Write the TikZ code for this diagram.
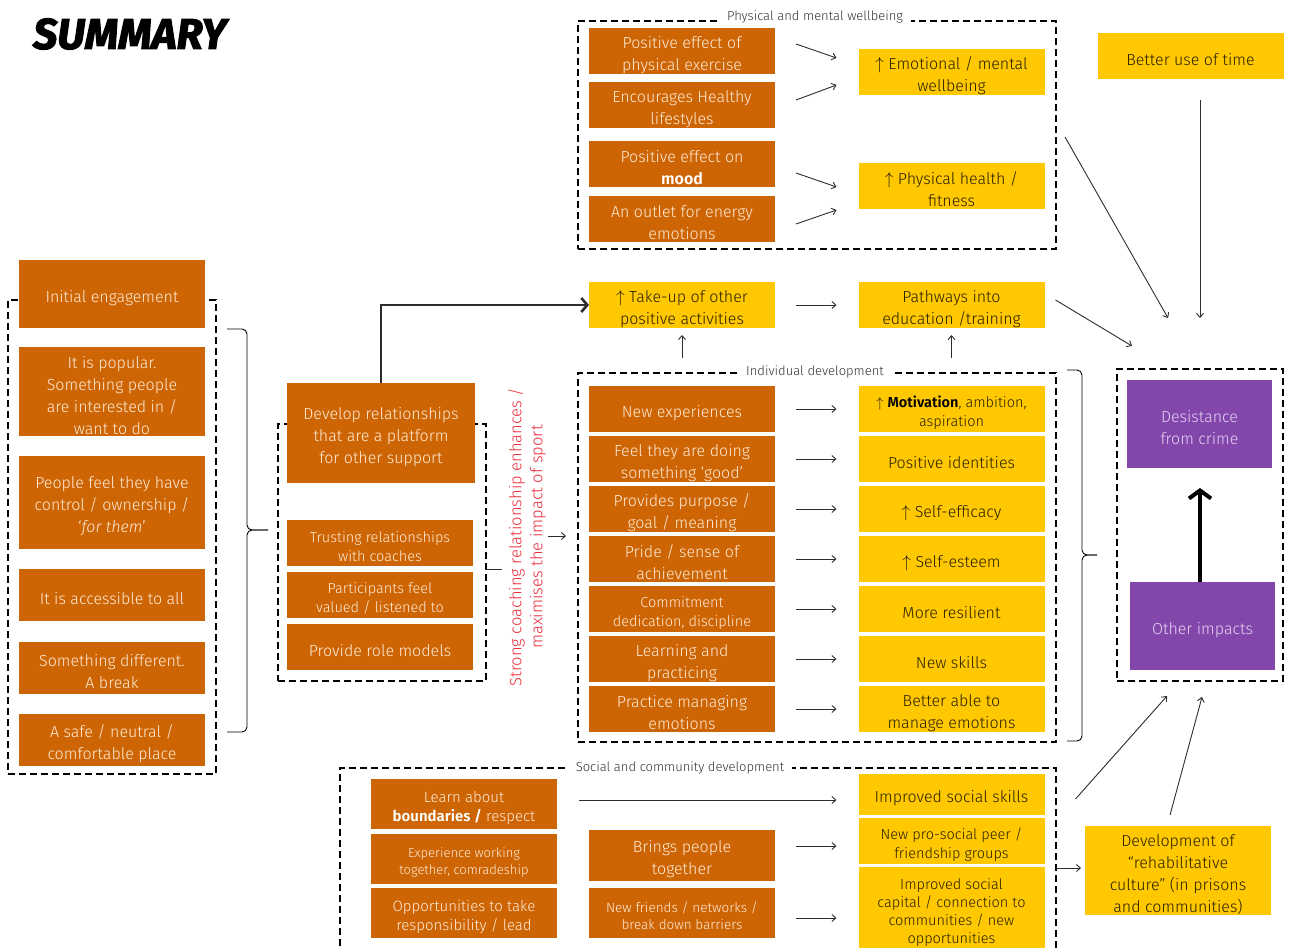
\documentclass[tikz,border=0pt]{standalone}
\usepackage{fontspec}
\setmainfont{Fira Sans Light}[BoldFont={Fira Sans SemiBold}, ItalicFont={Fira Sans Light Italic}]
\newfontfamily\titlefont{Fira Sans}[BoldItalicFeatures={FakeBold=2.5}]
\usetikzlibrary{arrows.meta}
\definecolor{ora}{RGB}{205,101,5}
\definecolor{yel}{RGB}{255,200,0}
\definecolor{pur}{RGB}{131,71,171}
\definecolor{cream}{RGB}{255,236,215}
\definecolor{lav}{RGB}{228,210,242}
\definecolor{dtext}{RGB}{40,30,0}
\definecolor{redt}{RGB}{235,45,60}
\definecolor{lineg}{RGB}{45,45,45}
\newcommand\st{\rule{0pt}{1.25em}}
\begin{document}
\begin{tikzpicture}[x=1pt,y=-1pt,
  base/.style={inner sep=0pt, outer sep=0pt, align=center, minimum width=186pt, minimum height=46pt, font=\fontsize{16}{22}\selectfont},
  ob/.style={base, fill=ora, text=cream},
  yb/.style={base, fill=yel, text=dtext},
  pb/.style={base, fill=pur, text=lav, minimum width=145pt, minimum height=88pt},
  sm/.style={font=\fontsize{14.5}{19}\selectfont},
  dbox/.style={draw=black, line width=2.2pt, dash pattern=on 7pt off 4pt, inner sep=0pt, outer sep=0pt},
  dlabel/.style={fill=white, inner xsep=8pt, inner ysep=1pt, text=black!80, font=\fontsize{13}{15}\selectfont},
  arr/.style={draw=lineg, line width=0.9pt, -{Straight Barb[length=4pt,width=7pt]}},
  brc/.style={draw=black, line width=0.9pt, rounded corners=5pt}
]
\useasboundingbox (0,0) rectangle (1289,947);
\clip (0,0) rectangle (1289,947);

% title
\node[anchor=west, inner sep=0pt, font=\fontsize{43}{43}\titlefont\bfseries\itshape] (title) at (33,34) {SUMMARY};

% dashed containers
\node[dbox, minimum width=478pt, minimum height=228pt] (pmw) at (817,135) {};
\node[dbox, minimum width=208pt, minimum height=474pt] (lbox) at (112,537) {};
\node[dbox, minimum width=208pt, minimum height=257pt] (mbox) at (382,552.5) {};
\node[dbox, minimum width=478pt, minimum height=369pt] (ind) at (817,557.5) {};
\node[dbox, minimum width=166pt, minimum height=312pt] (rbox) at (1200,525) {};
\node[dbox, minimum width=716pt, minimum height=212pt] (soc) at (698,874) {};
\node[dlabel] (l1) at (815,17) {Physical and mental wellbeing};
\node[dlabel] (l2) at (815,372) {Individual development};
\node[dlabel] (l3) at (680,768) {Social and community development};

% top section
\node[ob] (pe1) at (682,51) {\st Positive effect of\\physical exercise};
\node[ob] (enc) at (682,105) {\st Encourages Healthy\\lifestyles};
\node[ob] (moo) at (682,164) {\st Positive effect on\\\textbf{\color{white}mood}};
\node[ob] (out) at (682,219) {\st An outlet for energy\\emotions};
\node[yb] (emo) at (951.5,72) {\st$\uparrow$ Emotional / mental\\wellbeing};
\node[yb] (phy) at (951.5,186) {\st$\uparrow$ Physical health /\\fitness};
\node[yb] (btr) at (1190.5,56) {\st Better use of time};
\node[yb] (tak) at (682,305) {\st$\uparrow$ Take-up of other\\positive activities};
\node[yb] (pth) at (951.5,305) {\st Pathways into\\education /training};

% left column
\node[ob, minimum height=68pt] (ie) at (112,294) {\st Initial engagement};
\node[ob, minimum height=89pt] (pop) at (112,391.5) {\st It is popular.\\Something people\\are interested in /\\want to do};
\node[ob, minimum height=93pt] (ctl) at (112,502.5) {\st People feel they have\\control / ownership /\\‘\textit{for them}’};
\node[ob, minimum height=52pt] (acc) at (112,595) {\st It is accessible to all};
\node[ob, minimum height=52pt] (dif) at (112,668) {\st Something different.\\A break};
\node[ob, minimum height=52pt] (safe) at (112,740) {\st A safe / neutral /\\comfortable place};

% middle column
\node[ob, minimum width=188pt, minimum height=100pt] (rel) at (381,433) {\st Develop relationships\\that are a platform\\for other support};
\node[ob, sm] (tru) at (380,543) {\st Trusting relationships\\with coaches};
\node[ob, sm] (par) at (380,595) {\st Participants feel\\valued / listened to};
\node[ob] (rol) at (380,647) {\st Provide role models};
\node[rotate=90, align=center, text=redt, inner sep=0pt, font=\fontsize{16.5}{21}\selectfont] (coach) at (527,537) {Strong coaching relationship enhances /\\maximises the impact of sport};

% individual development
\node[ob] (ne) at (682,409) {\st New experiences};
\node[ob] (gd) at (682,459) {\st Feel they are doing\\something ‘good’};
\node[ob] (pur) at (682,509) {\st Provides purpose /\\goal / meaning};
\node[ob] (prd) at (682,559) {\st Pride / sense of\\achievement};
\node[ob, sm] (com) at (682,609) {\st Commitment\\dedication, discipline};
\node[ob] (lrn) at (682,659) {\st Learning and\\practicing};
\node[ob] (pme) at (682,709) {\st Practice managing\\emotions};
\node[yb, sm] (mot) at (951.5,409) {\st$\uparrow$ \textbf{\color{black}Motivation}, ambition,\\aspiration};
\node[yb] (pid) at (951.5,459) {\st Positive identities};
\node[yb] (sef) at (951.5,509) {\st$\uparrow$ Self-efficacy};
\node[yb] (ses) at (951.5,559) {\st$\uparrow$ Self-esteem};
\node[yb] (res) at (951.5,609) {\st More resilient};
\node[yb] (nsk) at (951.5,659) {\st New skills};
\node[yb] (bme) at (951.5,709) {\st Better able to\\manage emotions};

% right
\node[pb] (des) at (1199.5,424) {\st Desistance\\from crime};
\node[pb] (oth) at (1202.5,626) {\st Other impacts};

% social
\node[ob, minimum height=50pt, font=\fontsize{15}{19}\selectfont] (lab) at (464,804) {\st Learn about\\\textbf{\color{white}boundaries /} respect};
\node[ob, minimum height=50pt, font=\fontsize{13}{16.5}\selectfont] (exp) at (464,859) {\st Experience working\\together, comradeship};
\node[ob, minimum height=50pt, font=\fontsize{15}{19}\selectfont] (opp) at (464,913) {\st Opportunities to take\\responsibility / lead};
\node[ob, minimum height=51pt] (brg) at (682,855.5) {\st Brings people\\together};
\node[ob, minimum height=50pt, font=\fontsize{13.5}{17}\selectfont] (nfr) at (682,913) {\st New friends / networks /\\break down barriers};
\node[yb, minimum height=41pt] (iss) at (951.5,794.5) {\st Improved social skills};
\node[yb, sm] (pps) at (951.5,841) {\st New pro-social peer /\\friendship groups};
\node[yb, minimum height=84pt, font=\fontsize{14.5}{18}\selectfont] (isc) at (951.5,909) {\st Improved social\\capital / connection to\\communities / new\\opportunities};
\node[yb, minimum height=89pt] (dev) at (1178,870.5) {\st Development of\\“rehabilitative\\culture” (in prisons\\and communities)};

% arrows top
\draw[arr] ([shift={(21,-7)}]pe1.east) -- ([shift={(-22,-14)}]emo.west);
\draw[arr] ([shift={(21,-5)}]enc.east) -- ([shift={(-22,13)}]emo.west);
\draw[arr] ([shift={(21,9)}]moo.east) -- ([shift={(-22,1)}]phy.west);
\draw[arr] ([shift={(21,5)}]out.east) -- ([shift={(-22,24)}]phy.west);
\draw[arr] ([shift={(9.5,21)}]btr.south) -- ([shift={(0.5,-62)}]des.north);
\draw[arr] ([shift={(9,2)}]pmw.east) -- ([shift={(-31.5,-62)}]des.north);
\draw[arr] ([shift={(11,-5)}]pth.east) -- ([shift={(-67.5,-34)}]des.north);
\draw[arr, shorten <=21pt, shorten >=22pt] (tak.east) -- (pth.west);
\draw[arr, shorten <=28pt, shorten >=7pt] (ne.north) -- (tak.south);
\draw[arr, shorten <=28pt, shorten >=7pt] (mot.north) -- (pth.south);
\draw[draw=lineg, line width=1.2pt, -{Straight Barb[length=6pt,width=14pt,line width=2.6pt]}] (rel.north) |- (tak.west);

% individual arrows
\foreach \a/\b in {ne/mot,gd/pid,pur/sef,prd/ses,com/res,lrn/nsk,pme/bme}
  \draw[arr, shorten <=21pt, shorten >=22pt] (\a.east) -- (\b.west);

% coaching link
\draw[draw=lineg, line width=0.9pt] ([yshift=-16.5]mbox.east) -- ++(16,0);
\draw[arr] ([shift={(-30,-21.5)}]ind.west) -- ([shift={(-12,-21.5)}]ind.west);

% braces
\draw[brc] (227,329) -- (247,329) -- (247,530) -- (268,530);
\draw[brc] (268,530) -- (247,530) -- (247,732) -- (227,732);
\draw[brc] (1067,370) -- (1082,370) -- (1082,555) -- (1097,555);
\draw[brc] (1097,555) -- (1082,555) -- (1082,741) -- (1067,741);

% desistance arrow
\draw[line width=4pt, -{Straight Barb[length=8pt,width=22pt]}] ([xshift=-2.5]oth.north) -- ([shift={(0.5,20)}]des.south);

% social arrows
\draw[arr] ([shift={(22,-4)}]lab.east) -- ([shift={(-22,5.5)}]iss.west);
\draw[arr] ([shift={(21,-9.5)}]brg.east) -- ([shift={(-22,5)}]pps.west);
\draw[arr] ([shift={(21,5)}]nfr.east) -- ([shift={(-22,9)}]isc.west);
\draw[arr] ([shift={(-28,-2.5)}]dev.west) -- ([shift={(-4,-2.5)}]dev.west);
\draw[arr] ([shift={(31,4.5)}]iss.east) -- ([shift={(-33,15)}]rbox.south);
\draw[arr] ([shift={(-8,-11)}]dev.north) -- ([shift={(2,16)}]rbox.south);
\end{tikzpicture}
\end{document}
